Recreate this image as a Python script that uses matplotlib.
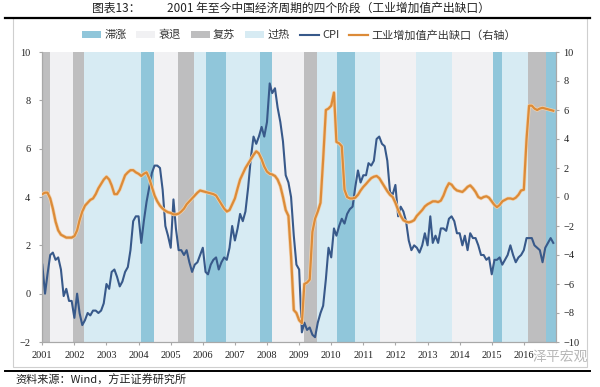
import matplotlib
matplotlib.use("Agg")
import matplotlib.pyplot as plt
import matplotlib.patheffects as pe
from matplotlib.patches import Patch, Rectangle
from matplotlib.lines import Line2D
import pandas as pd

plt.rcParams['font.family'] = ['Noto Sans CJK SC', 'DejaVu Sans']

# ---------------- data ----------------
start_month = '2001-01'
cpi = [
    1.2, 0.0, 0.8, 1.6, 1.7, 1.4, 1.5, 1.0, -0.1, 0.2, -0.3, -0.3,      # 2001
    -1.0, 0.0, -0.8, -1.3, -1.1, -0.8, -0.9, -0.7, -0.7, -0.8, -0.7, -0.4,  # 2002
    0.4, 0.2, 0.9, 1.0, 0.7, 0.3, 0.5, 0.9, 1.1, 1.8, 3.0, 3.2,         # 2003
    3.2, 2.1, 3.0, 3.8, 4.4, 5.0, 5.3, 5.3, 5.2, 4.3, 2.8, 2.4,         # 2004
    1.9, 3.9, 2.7, 1.8, 1.8, 1.6, 1.8, 1.3, 0.9, 1.2, 1.3, 1.6,         # 2005
    1.9, 0.9, 0.8, 1.2, 1.4, 1.5, 1.0, 1.3, 1.5, 1.4, 1.9, 2.8,         # 2006
    2.2, 2.7, 3.3, 3.0, 3.4, 4.4, 5.6, 6.5, 6.2, 6.5, 6.9, 6.5,         # 2007
    7.1, 8.7, 8.3, 8.5, 7.7, 7.1, 6.3, 4.9, 4.6, 4.0, 2.4, 1.2,         # 2008
    1.0, -1.6, -1.2, -1.5, -1.4, -1.7, -1.8, -1.2, -0.8, -0.5, 0.6, 1.9,  # 2009
    1.5, 2.7, 2.4, 2.8, 3.1, 2.9, 3.3, 3.5, 3.6, 4.4, 5.1, 4.6,         # 2010
    4.9, 4.9, 5.4, 5.3, 5.5, 6.4, 6.5, 6.2, 6.1, 5.5, 4.2, 4.1,         # 2011
    4.5, 3.2, 3.6, 3.4, 3.0, 2.2, 1.8, 2.0, 1.9, 1.7, 2.0, 2.5,         # 2012
    2.0, 3.2, 2.1, 2.4, 2.1, 2.7, 2.7, 2.6, 3.1, 3.2, 3.0, 2.5,         # 2013
    2.5, 2.0, 2.4, 1.8, 2.5, 2.3, 2.3, 2.0, 1.6, 1.6, 1.4, 1.5,         # 2014
    0.8, 1.4, 1.4, 1.5, 1.2, 1.4, 1.6, 2.0, 1.6, 1.3, 1.5, 1.6,         # 2015
    1.8, 2.3, 2.3, 2.3, 2.0, 1.9, 1.8, 1.3, 1.9, 2.1, 2.3, 2.1,         # 2016
]
output_gap = [
    0.2, 0.3, 0.3, -0.1, -0.8, -1.7, -2.3, -2.6, -2.7, -2.8, -2.8, -2.8,   # 2001
    -2.7, -2.3, -1.6, -1.0, -0.6, -0.4, -0.2, -0.1, 0.2, 0.6, 0.9, 1.2,    # 2002
    1.4, 1.2, 0.8, 0.2, 0.2, 0.5, 1.0, 1.5, 1.7, 1.85, 1.85, 1.7,          # 2003
    1.6, 1.45, 1.6, 1.7, 1.3, 0.7, 0.1, -0.3, -0.6, -0.8, -0.95, -1.05,    # 2004
    -1.1, -1.2, -1.2, -1.15, -1.0, -0.8, -0.5, -0.3, -0.1, 0.1, 0.3, 0.45, # 2005
    0.4, 0.35, 0.3, 0.25, 0.2, 0.1, -0.2, -0.5, -0.8, -1.0, -0.9, -0.5,    # 2006
    -0.1, 0.6, 1.2, 1.6, 2.0, 2.3, 2.6, 2.9, 3.15, 3.0, 2.6, 2.1,          # 2007
    1.75, 1.6, 1.55, 1.45, 1.2, 0.75, 0.0, -0.9, -1.3, -4.1, -7.8, -8.0,   # 2008
    -8.5, -8.7, -6.0, -5.9, -5.7, -2.4, -1.5, -1.0, -0.4, 2.6, 6.0, 6.1,   # 2009
    6.3, 7.2, 3.8, 3.7, 3.5, 0.5, 0.0, -0.1, -0.1, -0.05, 0.15, 0.45,      # 2010
    0.7, 0.9, 1.1, 1.3, 1.4, 1.45, 1.3, 1.0, 0.7, 0.4, 0.15, 0.0,          # 2011
    -0.4, -0.9, -1.3, -1.6, -1.7, -1.75, -1.7, -1.6, -1.3, -1.1, -0.9, -0.65,  # 2012
    -0.5, -0.4, -0.3, -0.3, -0.35, -0.25, 0.1, 0.6, 0.95, 0.85, 0.6, 0.45, # 2013
    0.4, 0.35, 0.5, 0.7, 0.8, 0.6, 0.35, 0.0, -0.1, 0.0, 0.05, -0.05,      # 2014
    -0.3, -0.55, -0.7, -0.55, -0.3, -0.2, -0.1, -0.1, -0.15, -0.05, 0.15, 0.45,  # 2015
    0.5, 4.0, 6.3, 6.3, 6.1, 6.0, 6.1, 6.15, 6.1, 6.05, 6.0, 5.95,         # 2016
]
phase_edges = ['2001-01-01', '2001-03-28', '2001-12-20', '2002-04-20', '2004-01-25',
               '2004-06-25', '2005-03-20', '2005-09-25', '2006-02-02', '2006-09-20',
               '2007-10-12', '2008-02-25', '2009-02-25', '2009-07-20', '2010-03-02',
               '2010-09-28', '2011-07-08', '2012-08-20', '2013-10-01', '2015-01-12',
               '2015-04-22', '2016-02-12', '2016-09-05', '2017-01-01']
phases = ['复苏', '衰退', '复苏', '过热', '滞涨', '衰退', '复苏', '过热', '滞涨', '过热',
          '滞涨', '衰退', '复苏', '过热', '滞涨', '过热', '衰退', '过热', '衰退', '滞涨',
          '过热', '复苏', '滞涨']
phase_names = ['滞涨', '衰退', '复苏', '过热']
years = list(range(2001, 2017))
left_ticks = [-2, 0, 2, 4, 6, 8, 10]
right_ticks = [-10, -8, -6, -4, -2, 0, 2, 4, 6, 8, 10]

title_label = '图表13：'
title_text = '2001 年至今中国经济周期的四个阶段（工业增加值产出缺口）'
cpi_label = 'CPI'
gap_label = '工业增加值产出缺口（右轴）'
source_text = '资料来源：Wind，方正证券研究所'
watermark = '泽平宏观'

# ---------------- style ----------------
phase_colors = {'滞涨': '#90c6da', '衰退': '#f1f1f3', '复苏': '#bebebf', '过热': '#d7ebf3'}
cpi_color = '#38598a'
gap_color = '#dc8b38'
W, H = 600, 387

dates = pd.date_range(start_month, periods=len(cpi), freq='MS')

fig = plt.figure(figsize=(6, 3.87), dpi=100)
ax = fig.add_axes([42.3 / W, 1 - 342 / H, (556 - 42.3) / W, (342 - 52) / H])
ax.set_facecolor('white')

edges = pd.to_datetime(phase_edges)
for i, ph in enumerate(phases):
    ax.axvspan(edges[i], edges[i + 1], color=phase_colors[ph], lw=0, zorder=0)

ax.plot(dates, cpi, color=cpi_color, lw=1.5, zorder=3)
ax.set_ylim(-2, 10)
ax.set_yticks(left_ticks)
ax.set_xlim(pd.Timestamp('2001-01-01'), pd.Timestamp('2017-01-01'))
ax.set_xticks([pd.Timestamp(f'{y}-01-01') for y in years])
ax.set_xticklabels([str(y) for y in years])

ax2 = ax.twinx()
ax2.plot(dates, output_gap, color=gap_color, lw=1.6, zorder=4,
         path_effects=[pe.Stroke(linewidth=2.6, foreground='#f2d2ad'), pe.Normal()])
ax2.set_ylim(-10, 10)
ax2.set_yticks(right_ticks)

for a in (ax, ax2):
    for s in a.spines.values():
        s.set_color('#a8a8a8')
        s.set_linewidth(0.8)
    a.spines['top'].set_visible(False)
    a.tick_params(axis='both', length=2.5, width=0.8, color='#a8a8a8', pad=4, labelcolor='#222222')
    for lab in a.get_xticklabels() + a.get_yticklabels():
        lab.set_fontfamily('Liberation Serif')
        lab.set_fontsize(7.5)
ax.tick_params(axis='y', pad=6)
ax2.tick_params(axis='y', pad=3)

# legend
handles = [Patch(facecolor=phase_colors[n], edgecolor='none') for n in phase_names]
handles += [Line2D([], [], color=cpi_color, lw=1.5), Line2D([], [], color=gap_color, lw=1.6)]
labels = phase_names + [cpi_label, gap_label]
fig.legend(handles, labels, loc='center', bbox_to_anchor=(299 / W, 1 - 35 / H), ncol=6,
           frameon=False, fontsize=8, handlelength=1.7, handleheight=0.6,
           handletextpad=0.3, columnspacing=0.9, labelcolor='#333333')

# title, frame and source
fig.text(92 / W, 1 - 8.5 / H, title_label, fontsize=8.5, va='center', ha='left', color='#222222')
fig.text(167 / W, 1 - 8.5 / H, title_text, fontsize=8.5, va='center', ha='left', color='#222222')
fig.add_artist(Line2D([5 / W, 590 / W], [1 - 17.5 / H, 1 - 17.5 / H], color='black', lw=1.6,
                      transform=fig.transFigure))
fig.add_artist(Rectangle((13 / W, 1 - 367 / H), (587 - 13) / W, (367 - 18) / H, fill=False,
                         edgecolor='#cfcfcf', lw=0.8, transform=fig.transFigure))
fig.add_artist(Line2D([5 / W, 590 / W], [1 - 370.5 / H, 1 - 370.5 / H], color='black', lw=1.4,
                      transform=fig.transFigure))
fig.text(15 / W, 1 - 380 / H, source_text, fontsize=8, va='center', ha='left', color='#222222')
fig.text(588 / W, 1 - 357 / H, watermark, fontsize=10, va='center', ha='right', color='#b8b8b8',
         zorder=10)

fig.savefig('out.png', dpi=100)
